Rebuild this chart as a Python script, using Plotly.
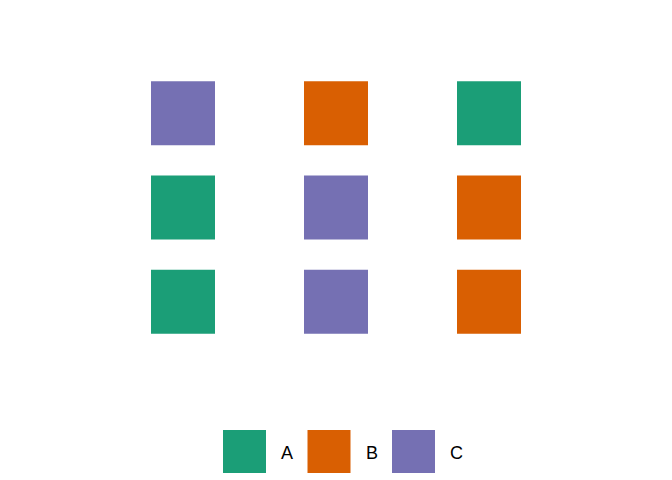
import plotly.graph_objects as go

# Data
columns = [1, 2, 3, 1, 2, 3, 1, 2, 3]
rows = [3, 3, 3, 2, 2, 2, 1, 1, 1]
groups = ["C", "B", "A", "A", "C", "B", "A", "C", "B"]
categories = ["A", "B", "C"]
palette = {"A": "#1B9E77", "B": "#D95F02", "C": "#7570B3"}

W, H = 672, 480
fig = go.Figure()
for cat in categories:
    xs = [c for c, g in zip(columns, groups) if g == cat]
    ys = [r for r, g in zip(rows, groups) if g == cat]
    fig.add_trace(go.Scatter(
        x=xs, y=ys, mode="markers", name=cat, showlegend=False,
        marker=dict(symbol="square", size=64, color=palette[cat], line=dict(width=0)),
        hoverinfo="skip",
    ))

# Manual legend with large keys
shapes, annotations = [], []
key_size = 43
for i, cat in enumerate(categories):
    x0 = 223 + i * 84.5
    y0 = 430
    shapes.append(dict(type="rect", xref="paper", yref="paper",
                       x0=x0 / W, x1=(x0 + key_size) / W,
                       y0=1 - (y0 + key_size) / H, y1=1 - y0 / H,
                       fillcolor=palette[cat], line=dict(width=0), layer="above"))
    annotations.append(dict(xref="paper", yref="paper", x=(x0 + 64) / W, y=1 - 453 / H,
                            text=cat, showarrow=False, xanchor="center", yanchor="middle",
                            font=dict(size=18, color="black", family="Liberation Sans, Arial, sans-serif")))

fig.update_layout(
    width=W, height=H,
    margin=dict(l=0, r=0, t=0, b=0),
    paper_bgcolor="white", plot_bgcolor="white",
    xaxis=dict(range=[0.5, 3.5], domain=[106.5 / W, 565.5 / W], visible=False, fixedrange=True),
    yaxis=dict(range=[0.5, 3.5], domain=[1 - 349 / H, 1 - 66 / H], visible=False, fixedrange=True),
    shapes=shapes, annotations=annotations,
    showlegend=False,
)
fig.write_html("out.html")
